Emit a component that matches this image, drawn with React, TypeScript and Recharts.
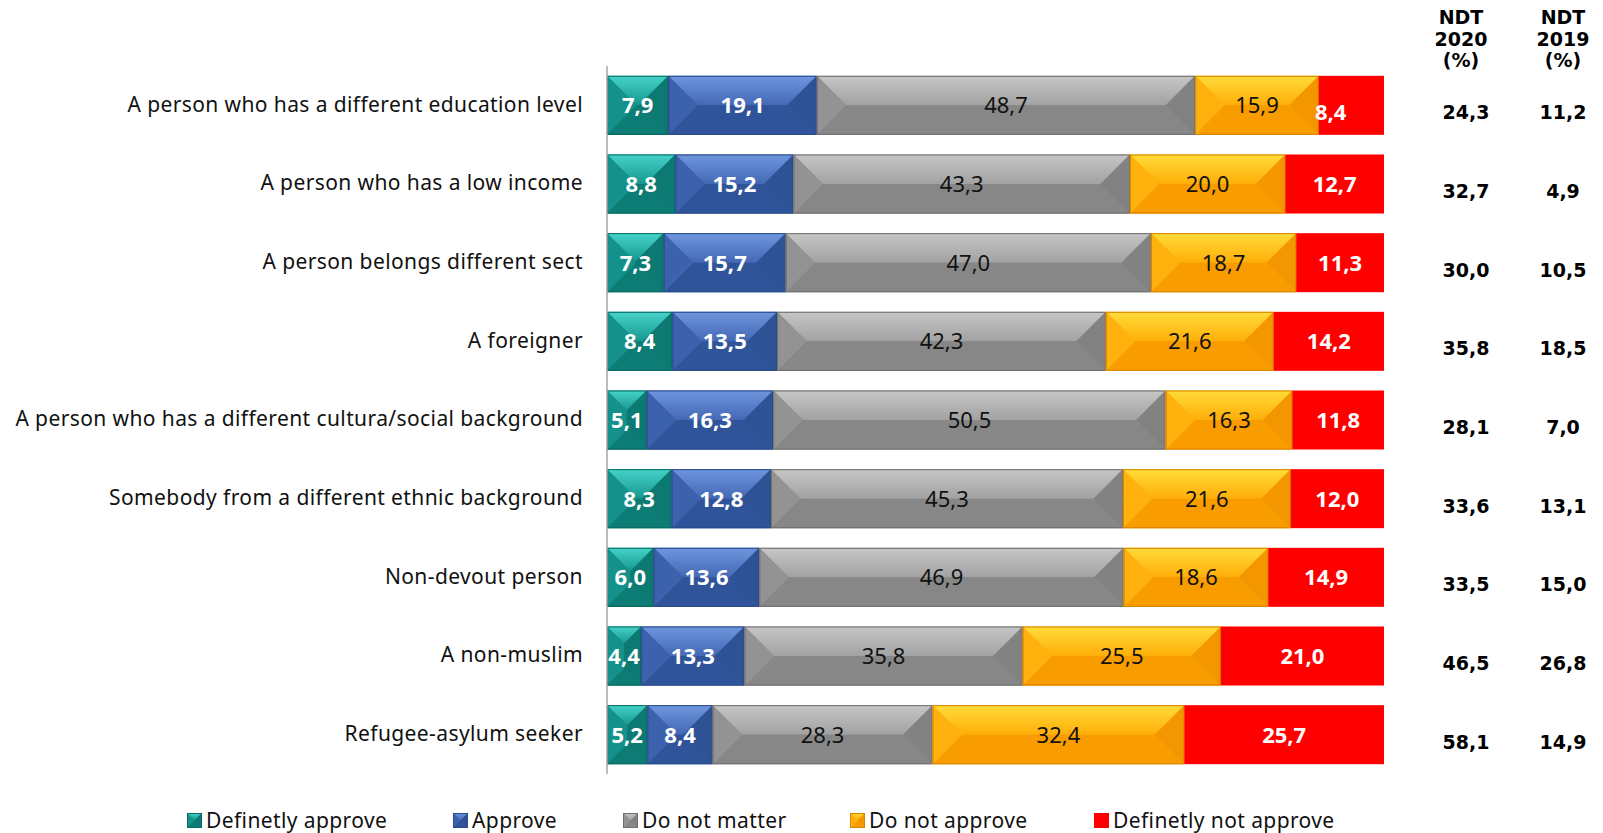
import React from 'react';
import { BarChart, Bar, XAxis, YAxis, LabelList, Customized } from 'recharts';

const categories = [
  'A person who has a different education level',
  'A person who has a low income',
  'A person belongs different sect',
  'A foreigner',
  'A person who has a different cultura/social background',
  'Somebody from a different ethnic background',
  'Non-devout person',
  'A non-muslim',
  'Refugee-asylum seeker',
];
const definitelyApprove = [7.9, 8.8, 7.3, 8.4, 5.1, 8.3, 6.0, 4.4, 5.2];
const approve = [19.1, 15.2, 15.7, 13.5, 16.3, 12.8, 13.6, 13.3, 8.4];
const doNotMatter = [48.7, 43.3, 47.0, 42.3, 50.5, 45.3, 46.9, 35.8, 28.3];
const doNotApprove = [15.9, 20.0, 18.7, 21.6, 16.3, 21.6, 18.6, 25.5, 32.4];
const definitelyNotApprove = [8.4, 12.7, 11.3, 14.2, 11.8, 12.0, 14.9, 21.0, 25.7];
const ndt2020 = [24.3, 32.7, 30.0, 35.8, 28.1, 33.6, 33.5, 46.5, 58.1];
const ndt2019 = [11.2, 4.9, 10.5, 18.5, 7.0, 13.1, 15.0, 26.8, 14.9];
const seriesNames = ['Definetly approve', 'Approve', 'Do not matter', 'Do not approve', 'Definetly not approve'];
const headers = [['NDT', '2020', '(%)'], ['NDT', '2019', '(%)']];

const seriesValues = [definitelyApprove, approve, doNotMatter, doNotApprove, definitelyNotApprove];
const keys = ['da', 'ap', 'dm', 'dna', 'dnot'];

type Pal = { flat?: boolean; base: string; top1: string; top2: string; bottom: string; left: string; right: string; stroke: string; label: string; bold: boolean };
const palettes: Pal[] = [
  { base: '#10877e', top1: '#45d3ca', top2: '#17978e', bottom: '#0c7c74', left: '#13918a', right: '#0c7a72', stroke: '#0a6a63', label: '#ffffff', bold: true },
  { base: '#3a5ea8', top1: '#6e96de', top2: '#4468b5', bottom: '#30549a', left: '#3d62ad', right: '#2f5295', stroke: '#2a4a88', label: '#ffffff', bold: true },
  { base: '#8c8c8c', top1: '#c6c6c6', top2: '#a2a2a2', bottom: '#878787', left: '#939393', right: '#828282', stroke: '#6f6f6f', label: '#111111', bold: false },
  { base: '#ffa500', top1: '#ffdc3a', top2: '#ffae08', bottom: '#f89c00', left: '#ffb10e', right: '#f49600', stroke: '#d88400', label: '#111111', bold: false },
  { flat: true, base: '#ff0000', top1: '#ff0000', top2: '#ff0000', bottom: '#ff0000', left: '#ff0000', right: '#ff0000', stroke: 'none', label: '#ffffff', bold: true },
];

const data = categories.map((c, i) => {
  const row: Record<string, any> = { category: c };
  keys.forEach((k, s) => { row[k] = seriesValues[s][i]; });
  return row;
});

const fmt = (v: number) => v.toFixed(1).replace('.', ',');
const LABEL_FONT = "'Noto Sans', sans-serif";
const BOLD_FONT = "'DejaVu Sans', sans-serif";

function Bevel(props: any) {
  const { x, y, width: w, height: h, pal, gid } = props;
  if (!w || w <= 0 || !h) return null;
  if (pal.flat) return <rect x={x} y={y} width={w} height={h} fill={pal.base} />;
  const b = Math.min(h / 2, w / 2);
  return (
    <g>
      <rect x={x} y={y} width={w} height={h} fill={pal.base} />
      <polygon points={`${x},${y} ${x + w},${y} ${x + w - b},${y + b} ${x + b},${y + b}`} fill={`url(#${gid})`} />
      <polygon points={`${x},${y + h} ${x + w},${y + h} ${x + w - b},${y + h - b} ${x + b},${y + h - b}`} fill={pal.bottom} />
      <polygon points={`${x},${y} ${x + b},${y + b} ${x + b},${y + h - b} ${x},${y + h}`} fill={pal.left} />
      <polygon points={`${x + w},${y} ${x + w - b},${y + b} ${x + w - b},${y + h - b} ${x + w},${y + h}`} fill={pal.right} />
      <rect x={x + 0.5} y={y + 0.5} width={Math.max(w - 1, 0)} height={h - 1} fill="none" stroke={pal.stroke} strokeWidth={1} />
    </g>
  );
}

function makeLabel(s: number) {
  const pal = palettes[s];
  return (props: any) => {
    const { x, y, width: w, height: h, value } = props;
    let cx = x + w / 2;
    let cy = y + h / 2;
    if (s === 4 && w < 70) { cx = x + 12; cy = y + h / 2 + 7; }
    return (
      <text x={cx} y={cy} dy="0.36em" textAnchor="middle" fill={pal.label}
        fontFamily={LABEL_FONT} fontSize={22} fontWeight={pal.bold ? 700 : 400}>
        {fmt(Number(value))}
      </text>
    );
  };
}

function LeftTick(props: any) {
  const { x, y, payload } = props;
  return (
    <text x={x - 16} y={y} dy="0.3em" textAnchor="end" fill="#111" fontFamily={LABEL_FONT} fontSize={21} letterSpacing={0.4}>
      {payload.value}
    </text>
  );
}

function RightTick(props: any) {
  const { y, payload, index } = props;
  const i = typeof index === 'number' ? index : categories.indexOf(payload.value);
  return (
    <g>
      <text x={1466} y={y + 7} dy="0.36em" textAnchor="middle" fill="#000" fontFamily={BOLD_FONT} fontWeight={700} fontSize={19}>
        {fmt(ndt2020[i])}
      </text>
      <text x={1563} y={y + 7} dy="0.36em" textAnchor="middle" fill="#000" fontFamily={BOLD_FONT} fontWeight={700} fontSize={19}>
        {fmt(ndt2019[i])}
      </text>
    </g>
  );
}

function Headers() {
  const xs = [1461, 1563];
  const ys = [17, 39, 60];
  return (
    <g>
      {headers.map((lines, c) =>
        lines.map((t, r) => (
          <text key={`${c}-${r}`} x={xs[c]} y={ys[r]} dy="0.36em" textAnchor="middle" fill="#000"
            fontFamily={BOLD_FONT} fontWeight={700} fontSize={19}>{t}</text>
        ))
      )}
    </g>
  );
}

const LEGEND_X = [187, 453, 623, 850, 1094];

function LegendMarker({ s }: { s: number }) {
  const pal = palettes[s];
  return (
    <svg width={15} height={15} style={{ display: 'block' }}>
      <defs>
        <linearGradient id={`lg-${s}`} x1="0" y1="0" x2="0" y2="1">
          <stop offset="0%" stopColor={pal.top1} />
          <stop offset="100%" stopColor={pal.top2} />
        </linearGradient>
      </defs>
      <Bevel x={0} y={0} width={15} height={15} pal={pal} gid={`lg-${s}`} />
    </svg>
  );
}

export default function App() {
  return (
    <div style={{ position: 'absolute', left: 0, top: 0, width: 1603, height: 833, background: '#fff' }}>
      <BarChart width={1603} height={833} data={data} layout="vertical" barCategoryGap="12.5%"
        margin={{ top: 66, right: 0, bottom: 59, left: 0 }}>
        <defs>
          {palettes.map((p, s) => (
            <linearGradient key={s} id={`g-${s}`} x1="0" y1="0" x2="0" y2="1">
              <stop offset="0%" stopColor={p.top1} />
              <stop offset="100%" stopColor={p.top2} />
            </linearGradient>
          ))}
        </defs>
        <XAxis type="number" domain={[0, 100]} hide />
        <YAxis yAxisId="left" type="category" dataKey="category" width={607} tickLine={false}
          axisLine={{ stroke: '#a6a6a6', strokeWidth: 1.5 }} tick={<LeftTick />} interval={0} />
        <YAxis yAxisId="right" orientation="right" type="category" dataKey="category" width={219}
          tickLine={false} axisLine={false} tick={<RightTick />} interval={0} />
        {keys.map((k, s) => (
          <Bar key={k} dataKey={k} name={seriesNames[s]} stackId="a" yAxisId="left" isAnimationActive={false}
            fill={palettes[s].base}
            shape={(p: any) => <Bevel {...p} pal={palettes[s]} gid={`g-${s}`} />}>
            <LabelList dataKey={k} content={makeLabel(s)} />
          </Bar>
        ))}
        <Customized component={Headers} />
      </BarChart>
      {seriesNames.map((n, s) => (
        <div key={n} style={{ position: 'absolute', left: LEGEND_X[s], top: 808, display: 'flex', alignItems: 'center', height: 24 }}>
          <LegendMarker s={s} />
          <span style={{ marginLeft: 4, fontFamily: LABEL_FONT, fontSize: 21, letterSpacing: 0.4, color: '#111', whiteSpace: 'nowrap' }}>{n}</span>
        </div>
      ))}
    </div>
  );
}
